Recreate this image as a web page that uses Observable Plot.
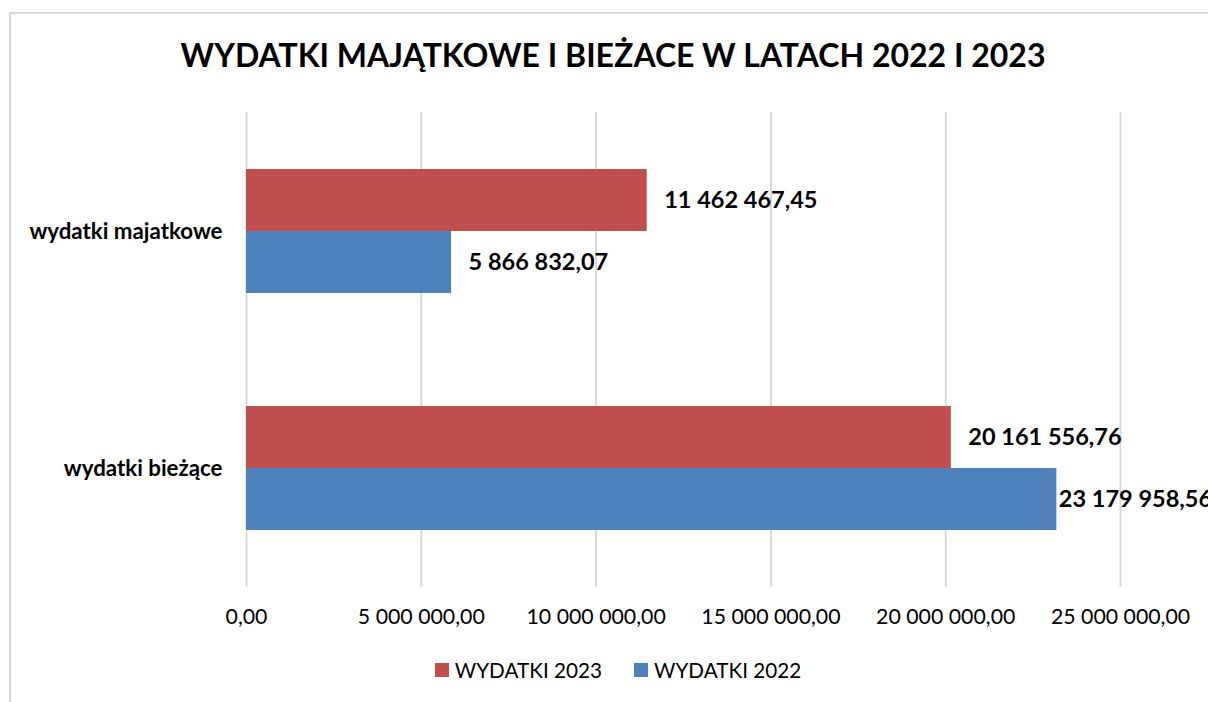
<!DOCTYPE html>
<html>
<head>
<meta charset="utf-8">
<script src="https://cdn.jsdelivr.net/npm/d3@7"></script>
<script src="https://cdn.jsdelivr.net/npm/@observablehq/plot@0.6"></script>
<style>
  html, body { margin: 0; padding: 0; background: #fff; }
  #wrap { position: relative; width: 1208px; height: 702px; overflow: hidden; font-family: Lato, "Open Sans", sans-serif; }
  #frame { position: absolute; left: 9px; top: 12px; width: 1400px; height: 900px; border: 2px solid #d9d9d9; box-sizing: border-box; }
  #title { position: absolute; left: 0; top: 35px; width: 1226px; text-align: center; font-weight: bold; font-size: 32px; color: #000; white-space: nowrap; }
  #chart { position: absolute; left: 0; top: 0; }
  #legend { position: absolute; top: 658px; left: 0; width: 1236px; display: flex; justify-content: center; gap: 32px; font-size: 20.7px; color: #000; }
  .item { display: flex; align-items: center; gap: 6px; }
  .sw { width: 14px; height: 14px; display: inline-block; }
</style>
</head>
<body>
<div id="wrap">
  <div id="frame"></div>
  <div id="title"></div>
  <div id="chart"></div>
  <div id="legend"></div>
</div>
<script>
const chartTitle = "WYDATKI MAJĄTKOWE I BIEŻACE W LATACH 2022 I 2023";
const categories = ["wydatki majatkowe", "wydatki bieżące"];
const seriesNames = ["WYDATKI 2023", "WYDATKI 2022"];
const seriesColors = ["#C0504D", "#4F81BD"];
const values2023 = [11462467.45, 20161556.76];
const values2022 = [5866832.07, 23179958.56];
const xTicks = [0, 5000000, 10000000, 15000000, 20000000, 25000000];

const pl = d3.formatLocale({decimal: ",", thousands: " ", grouping: [3], currency: ["", ""]});
const fmt = pl.format(",.2f");

const data = [];
categories.forEach((c, i) => {
  data.push({category: c, series: seriesNames[0], value: values2023[i]});
  data.push({category: c, series: seriesNames[1], value: values2022[i]});
});
const maxVal = d3.max(data, d => d.value);

document.getElementById("title").textContent = chartTitle;

const W = 1208, H = 702;
const bandHalf = 62;
const labelSize = 23.5;

const chart = Plot.plot({
  width: W,
  height: H,
  marginLeft: 246,
  marginRight: 88,
  marginTop: 112,
  marginBottom: 115,
  style: {fontFamily: "Lato, 'Open Sans', sans-serif", background: "transparent", overflow: "visible"},
  x: {domain: [0, 25000000]},
  y: {domain: categories, paddingInner: 0.478, paddingOuter: 0.239},
  color: {domain: seriesNames, range: seriesColors},
  marks: [
    Plot.gridX(xTicks, {stroke: "#d9d9d9", strokeOpacity: 1, strokeWidth: 2}),
    Plot.barX(data.filter(d => d.series === seriesNames[0]), {x: "value", y: "category", fill: "series", insetBottom: bandHalf}),
    Plot.barX(data.filter(d => d.series === seriesNames[1]), {x: "value", y: "category", fill: "series", insetTop: bandHalf}),
    Plot.text(data.filter(d => d.series === seriesNames[0]), {x: "value", y: "category", text: d => fmt(d.value), dy: -bandHalf / 2, dx: 17, textAnchor: "start", fontWeight: "bold", fontSize: labelSize, fill: "#000"}),
    Plot.text(data.filter(d => d.series === seriesNames[1] && d.value !== maxVal), {x: "value", y: "category", text: d => fmt(d.value), dy: bandHalf / 2, dx: 17, textAnchor: "start", fontWeight: "bold", fontSize: labelSize, fill: "#000"}),
    Plot.text(data.filter(d => d.value === maxVal), {x: "value", y: "category", text: d => fmt(d.value), dy: bandHalf / 2, dx: 2, textAnchor: "start", fontWeight: "bold", fontSize: labelSize, fill: "#000"}),
    Plot.axisX({ticks: xTicks, tickFormat: fmt, tickSize: 0, tickPadding: 21, fontSize: 21.3, label: null, fill: "#000"}),
    Plot.axisY({tickSize: 0, tickPadding: 24, fontSize: 22.3, fontWeight: "bold", label: null, fill: "#000"})
  ]
});
document.getElementById("chart").appendChild(chart);

const legend = document.getElementById("legend");
seriesNames.forEach((s, i) => {
  const item = document.createElement("div");
  item.className = "item";
  const sw = document.createElement("span");
  sw.className = "sw";
  sw.style.background = seriesColors[i];
  const t = document.createElement("span");
  t.textContent = s;
  item.appendChild(sw);
  item.appendChild(t);
  legend.appendChild(item);
});
</script>
</body>
</html>
